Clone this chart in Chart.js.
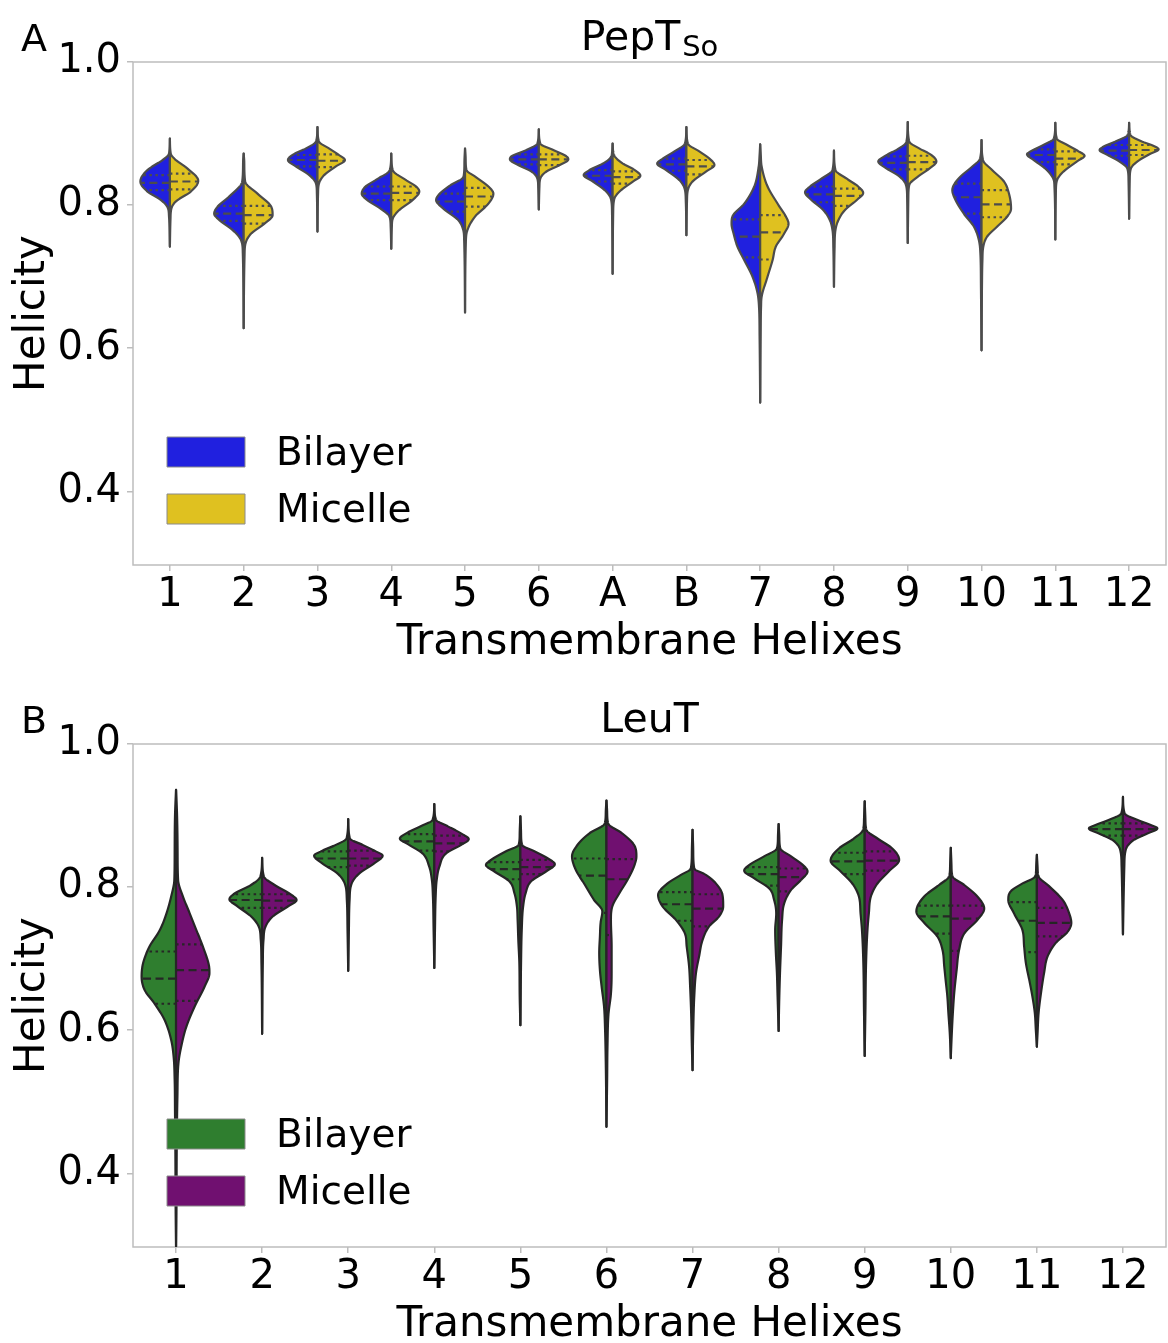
<!DOCTYPE html>
<html>
<head>
<meta charset="utf-8">
<script src="https://cdn.jsdelivr.net/npm/chart.js@4.4.1/dist/chart.umd.min.js"></script>
<style>
html, body { margin: 0; padding: 0; background: #fff; overflow: hidden; }
canvas { position: absolute; left: 0; }
#chartA { top: 0; }
#chartB { top: 682px; }
</style>
</head>
<body>
<canvas id="chartA" width="1168" height="672"></canvas>
<canvas id="chartB" width="1168" height="672"></canvas>
<script>
var yTicks = [0.4, 0.6, 0.8, 1.0];
var seriesNames = ['Bilayer', 'Micelle'];

// ---- PepTSo ----
var pepLabels = ['1', '2', '3', '4', '5', '6', 'A', 'B', '7', '8', '9', '10', '11', '12'];
var pepColors = ['#2020df', '#dfc120'];

// quartiles per helix: [q1, median, q3]
var pepBilayerQuartiles = [
	[0.821, 0.831, 0.842], [0.778, 0.788, 0.799], [0.854, 0.863, 0.870], [0.807, 0.816, 0.826],
	[0.791, 0.805, 0.816], [0.857, 0.864, 0.871], [0.833, 0.841, 0.849], [0.848, 0.857, 0.865],
	[0.727, 0.756, 0.780], [0.804, 0.815, 0.826], [0.850, 0.859, 0.868], [0.788, 0.811, 0.830],
	[0.860, 0.870, 0.878], [0.869, 0.876, 0.884]
];
var pepMicelleQuartiles = [
	[0.822, 0.833, 0.844], [0.774, 0.786, 0.799], [0.853, 0.862, 0.871], [0.807, 0.817, 0.826],
	[0.798, 0.812, 0.824], [0.856, 0.864, 0.871], [0.830, 0.839, 0.847], [0.843, 0.854, 0.863],
	[0.724, 0.762, 0.786], [0.799, 0.813, 0.823], [0.850, 0.860, 0.869], [0.783, 0.801, 0.821],
	[0.857, 0.865, 0.875], [0.870, 0.877, 0.884]
];

// density outline per helix: [helicity, relative density]
var pepBilayerShapes = [
	[[0.893,0],[0.872,0.03],[0.863,0.25],[0.849,0.76],[0.833,1.0],[0.819,0.76],[0.807,0.30],[0.797,0.08],[0.784,0.03],[0.742,0]],
	[[0.872,0],[0.86,0.02],[0.833,0.05],[0.812,0.49],[0.798,0.88],[0.788,1.0],[0.779,0.82],[0.765,0.37],[0.751,0.09],[0.733,0.03],[0.628,0]],
	[[0.909,0],[0.889,0.05],[0.879,0.40],[0.870,0.85],[0.863,1.0],[0.854,0.73],[0.842,0.28],[0.830,0.05],[0.816,0.02],[0.763,0]],
	[[0.872,0],[0.849,0.05],[0.835,0.53],[0.826,0.87],[0.816,1.0],[0.807,0.81],[0.795,0.36],[0.784,0.06],[0.77,0.02],[0.739,0]],
	[[0.879,0],[0.86,0.02],[0.840,0.05],[0.826,0.56],[0.814,0.90],[0.807,0.98],[0.795,0.73],[0.779,0.23],[0.765,0.06],[0.751,0.03],[0.650,0]],
	[[0.906,0],[0.886,0.05],[0.877,0.42],[0.868,0.93],[0.864,0.98],[0.856,0.70],[0.847,0.25],[0.837,0.05],[0.825,0.02],[0.794,0]],
	[[0.886,0],[0.868,0.05],[0.858,0.33],[0.849,0.78],[0.842,0.98],[0.833,0.67],[0.821,0.27],[0.809,0.06],[0.79,0.02],[0.704,0]],
	[[0.909,0],[0.886,0.05],[0.875,0.41],[0.865,0.80],[0.858,0.99],[0.849,0.69],[0.835,0.24],[0.823,0.06],[0.805,0.02],[0.758,0]],
	[[0.885,0],[0.87,0.02],[0.854,0.05],[0.826,0.20],[0.802,0.54],[0.784,0.94],[0.774,0.97],[0.760,0.90],[0.742,0.77],[0.723,0.54],[0.700,0.26],[0.677,0.09],[0.658,0.04],[0.616,0.02],[0.524,0]],
	[[0.876,0],[0.849,0.05],[0.837,0.42],[0.826,0.81],[0.818,0.98],[0.807,0.76],[0.793,0.36],[0.779,0.14],[0.765,0.05],[0.74,0.02],[0.686,0]],
	[[0.916,0],[0.888,0.05],[0.878,0.35],[0.868,0.80],[0.861,1.0],[0.852,0.75],[0.840,0.28],[0.828,0.06],[0.81,0.02],[0.747,0]],
	[[0.891,0],[0.865,0.05],[0.854,0.31],[0.840,0.71],[0.828,0.94],[0.821,0.99],[0.807,0.88],[0.788,0.60],[0.770,0.26],[0.751,0.09],[0.733,0.04],[0.686,0.02],[0.597,0]],
	[[0.915,0],[0.893,0.05],[0.884,0.40],[0.876,0.79],[0.871,0.96],[0.863,0.73],[0.851,0.34],[0.837,0.07],[0.826,0.03],[0.752,0]],
	[[0.915,0],[0.898,0.05],[0.889,0.45],[0.882,0.85],[0.877,1.0],[0.870,0.73],[0.861,0.33],[0.851,0.06],[0.835,0.02],[0.781,0]]
];
var pepMicelleShapes = [
	[[0.893,0],[0.872,0.03],[0.865,0.15],[0.851,0.60],[0.834,0.96],[0.819,0.71],[0.805,0.20],[0.795,0.05],[0.780,0.02],[0.742,0]],
	[[0.872,0],[0.86,0.02],[0.833,0.05],[0.816,0.47],[0.798,0.93],[0.786,0.98],[0.774,0.70],[0.760,0.25],[0.746,0.06],[0.73,0.03],[0.628,0]],
	[[0.909,0],[0.889,0.05],[0.879,0.40],[0.870,0.73],[0.863,0.93],[0.854,0.62],[0.842,0.23],[0.830,0.05],[0.816,0.02],[0.763,0]],
	[[0.872,0],[0.849,0.05],[0.835,0.50],[0.826,0.84],[0.819,0.95],[0.807,0.72],[0.793,0.27],[0.781,0.05],[0.77,0.02],[0.739,0]],
	[[0.879,0],[0.865,0.02],[0.849,0.05],[0.840,0.34],[0.826,0.79],[0.816,0.96],[0.802,0.79],[0.784,0.34],[0.765,0.08],[0.751,0.03],[0.650,0]],
	[[0.906,0],[0.886,0.05],[0.877,0.49],[0.868,0.94],[0.864,1.0],[0.856,0.71],[0.847,0.26],[0.837,0.05],[0.825,0.02],[0.794,0]],
	[[0.886,0],[0.870,0.05],[0.858,0.35],[0.849,0.75],[0.841,0.94],[0.833,0.69],[0.821,0.29],[0.809,0.06],[0.79,0.02],[0.704,0]],
	[[0.909,0],[0.886,0.05],[0.875,0.44],[0.865,0.78],[0.856,0.95],[0.847,0.67],[0.833,0.21],[0.821,0.05],[0.805,0.02],[0.758,0]],
	[[0.885,0],[0.87,0.02],[0.854,0.05],[0.826,0.25],[0.802,0.59],[0.784,0.87],[0.774,0.96],[0.760,0.81],[0.742,0.53],[0.723,0.42],[0.700,0.25],[0.672,0.05],[0.658,0.03],[0.616,0.015],[0.524,0]],
	[[0.876,0],[0.849,0.05],[0.837,0.43],[0.826,0.82],[0.817,0.99],[0.807,0.77],[0.793,0.37],[0.779,0.15],[0.765,0.05],[0.74,0.02],[0.686,0]],
	[[0.916,0],[0.889,0.05],[0.879,0.40],[0.870,0.80],[0.861,0.97],[0.851,0.73],[0.840,0.35],[0.828,0.05],[0.81,0.02],[0.747,0]],
	[[0.891,0],[0.863,0.05],[0.849,0.36],[0.833,0.76],[0.816,0.93],[0.795,1.0],[0.784,0.87],[0.770,0.53],[0.756,0.19],[0.742,0.06],[0.723,0.03],[0.686,0.015],[0.597,0]],
	[[0.915,0],[0.893,0.05],[0.884,0.40],[0.875,0.79],[0.869,0.99],[0.861,0.73],[0.847,0.28],[0.835,0.06],[0.82,0.02],[0.752,0]],
	[[0.915,0],[0.898,0.05],[0.889,0.42],[0.883,0.81],[0.878,1.0],[0.871,0.69],[0.861,0.28],[0.851,0.06],[0.835,0.02],[0.781,0]]
];

// ---- LeuT ----
var leuLabels = ['1', '2', '3', '4', '5', '6', '7', '8', '9', '10', '11', '12'];
var leuColors = ['#2f7e2f', '#701070'];

var leuBilayerQuartiles = [
	[0.637, 0.672, 0.710], [0.771, 0.782, 0.790], [0.828, 0.840, 0.850], [0.851, 0.864, 0.874],
	[0.811, 0.825, 0.835], [0.764, 0.816, 0.840], [0.753, 0.776, 0.793], [0.802, 0.818, 0.828],
	[0.818, 0.836, 0.848], [0.735, 0.759, 0.774], [0.709, 0.753, 0.779], [0.872, 0.881, 0.889]
];
var leuMicelleQuartiles = [
	[0.641, 0.684, 0.720], [0.771, 0.781, 0.790], [0.830, 0.840, 0.851], [0.850, 0.861, 0.872],
	[0.818, 0.828, 0.838], [0.733, 0.811, 0.839], [0.745, 0.770, 0.790], [0.794, 0.814, 0.826],
	[0.823, 0.837, 0.850], [0.711, 0.756, 0.774], [0.731, 0.750, 0.771], [0.872, 0.881, 0.889]
];

var leuBilayerShapes = [
	[[0.936,0],[0.90,0.03],[0.85,0.04],[0.810,0.05],[0.787,0.14],[0.763,0.28],[0.740,0.47],[0.717,0.77],[0.693,0.96],[0.675,1.0],[0.656,0.91],[0.637,0.62],[0.614,0.33],[0.586,0.14],[0.563,0.07],[0.530,0.04],[0.484,0.03],[0.437,0.02],[0.344,0.01],[0.298,0]],
	[[0.841,0],[0.815,0.05],[0.803,0.32],[0.791,0.80],[0.783,0.95],[0.773,0.71],[0.759,0.32],[0.745,0.10],[0.726,0.04],[0.694,0.02],[0.595,0]],
	[[0.895,0],[0.868,0.05],[0.859,0.36],[0.850,0.79],[0.844,0.99],[0.833,0.75],[0.819,0.31],[0.805,0.10],[0.782,0.04],[0.740,0.02],[0.683,0]],
	[[0.916,0],[0.894,0.05],[0.885,0.39],[0.875,0.82],[0.868,1.0],[0.859,0.73],[0.847,0.34],[0.829,0.15],[0.810,0.07],[0.787,0.04],[0.740,0.02],[0.687,0]],
	[[0.899,0],[0.875,0.02],[0.859,0.05],[0.850,0.42],[0.838,0.85],[0.831,1.0],[0.822,0.76],[0.808,0.32],[0.791,0.17],[0.773,0.10],[0.754,0.08],[0.726,0.06],[0.694,0.03],[0.647,0.02],[0.607,0]],
	[[0.921,0],[0.905,0.02],[0.889,0.05],[0.875,0.50],[0.859,0.84],[0.843,1.0],[0.824,0.89],[0.805,0.65],[0.782,0.36],[0.766,0.12],[0.750,0.17],[0.731,0.19],[0.708,0.21],[0.684,0.19],[0.661,0.14],[0.633,0.07],[0.600,0.04],[0.554,0.02],[0.465,0]],
	[[0.880,0],[0.850,0.02],[0.826,0.05],[0.817,0.34],[0.805,0.73],[0.789,1.0],[0.773,0.87],[0.754,0.48],[0.735,0.22],[0.717,0.17],[0.689,0.10],[0.661,0.07],[0.623,0.04],[0.577,0.02],[0.544,0]],
	[[0.888,0],[0.870,0.02],[0.854,0.05],[0.843,0.42],[0.831,0.85],[0.823,1.0],[0.812,0.70],[0.798,0.27],[0.782,0.13],[0.763,0.07],[0.740,0.10],[0.708,0.08],[0.680,0.05],[0.647,0.03],[0.599,0]],
	[[0.920,0],[0.895,0.02],[0.880,0.05],[0.868,0.31],[0.854,0.75],[0.837,0.99],[0.822,0.70],[0.805,0.36],[0.787,0.17],[0.763,0.12],[0.740,0.08],[0.694,0.04],[0.624,0.02],[0.564,0]],
	[[0.855,0],[0.830,0.02],[0.815,0.05],[0.803,0.34],[0.787,0.77],[0.766,1.0],[0.750,0.77],[0.731,0.39],[0.712,0.24],[0.689,0.19],[0.670,0.15],[0.647,0.10],[0.624,0.07],[0.596,0.03],[0.561,0]],
	[[0.845,0],[0.828,0.02],[0.815,0.05],[0.805,0.42],[0.794,0.76],[0.782,0.83],[0.763,0.66],[0.740,0.42],[0.717,0.37],[0.694,0.32],[0.670,0.22],[0.647,0.13],[0.624,0.06],[0.600,0.03],[0.577,0]],
	[[0.926,0],[0.903,0.05],[0.894,0.41],[0.887,0.79],[0.882,0.99],[0.875,0.70],[0.866,0.31],[0.852,0.08],[0.829,0.04],[0.787,0.02],[0.734,0]]
];
var leuMicelleShapes = [
	[[0.936,0],[0.90,0.03],[0.85,0.045],[0.810,0.06],[0.787,0.20],[0.763,0.40],[0.740,0.59],[0.717,0.78],[0.689,0.96],[0.680,0.97],[0.661,0.83],[0.633,0.54],[0.605,0.30],[0.577,0.15],[0.554,0.07],[0.507,0.04],[0.437,0.02],[0.344,0.01],[0.298,0]],
	[[0.841,0],[0.815,0.05],[0.803,0.36],[0.791,0.79],[0.782,1.0],[0.773,0.75],[0.759,0.31],[0.745,0.10],[0.726,0.04],[0.694,0.02],[0.595,0]],
	[[0.895,0],[0.868,0.05],[0.859,0.42],[0.850,0.80],[0.844,1.0],[0.833,0.75],[0.819,0.32],[0.805,0.10],[0.782,0.04],[0.740,0.02],[0.683,0]],
	[[0.916,0],[0.894,0.05],[0.885,0.39],[0.875,0.78],[0.867,1.0],[0.859,0.78],[0.847,0.34],[0.829,0.15],[0.810,0.07],[0.787,0.04],[0.740,0.02],[0.687,0]],
	[[0.899,0],[0.875,0.02],[0.859,0.05],[0.850,0.41],[0.840,0.80],[0.832,1.0],[0.822,0.75],[0.808,0.31],[0.791,0.15],[0.773,0.08],[0.740,0.04],[0.694,0.02],[0.607,0]],
	[[0.921,0],[0.905,0.02],[0.889,0.05],[0.875,0.46],[0.859,0.80],[0.843,0.87],[0.829,0.80],[0.810,0.61],[0.791,0.37],[0.773,0.17],[0.754,0.13],[0.717,0.15],[0.680,0.15],[0.651,0.13],[0.623,0.06],[0.577,0.03],[0.530,0.02],[0.465,0]],
	[[0.880,0],[0.850,0.02],[0.826,0.05],[0.817,0.39],[0.805,0.68],[0.789,0.87],[0.773,0.89],[0.759,0.77],[0.745,0.48],[0.726,0.29],[0.703,0.19],[0.680,0.10],[0.647,0.05],[0.600,0.02],[0.544,0]],
	[[0.888,0],[0.870,0.02],[0.854,0.05],[0.843,0.36],[0.831,0.70],[0.822,0.84],[0.810,0.65],[0.796,0.36],[0.777,0.16],[0.754,0.10],[0.717,0.07],[0.680,0.04],[0.647,0.02],[0.599,0]],
	[[0.920,0],[0.895,0.02],[0.880,0.05],[0.868,0.37],[0.854,0.80],[0.838,1.0],[0.822,0.70],[0.805,0.37],[0.787,0.18],[0.763,0.12],[0.740,0.08],[0.694,0.04],[0.624,0.02],[0.564,0]],
	[[0.855,0],[0.830,0.02],[0.815,0.05],[0.803,0.39],[0.787,0.77],[0.770,0.97],[0.754,0.77],[0.735,0.39],[0.712,0.24],[0.684,0.17],[0.652,0.10],[0.624,0.06],[0.596,0.03],[0.561,0]],
	[[0.845,0],[0.828,0.02],[0.815,0.05],[0.801,0.36],[0.782,0.75],[0.763,0.94],[0.750,1.0],[0.738,0.90],[0.722,0.55],[0.703,0.31],[0.680,0.21],[0.652,0.12],[0.624,0.05],[0.596,0.02],[0.577,0]],
	[[0.926,0],[0.903,0.05],[0.894,0.42],[0.887,0.80],[0.882,1.0],[0.875,0.71],[0.866,0.32],[0.852,0.08],[0.829,0.04],[0.787,0.02],[0.734,0]]
];

var FONT = 'DejaVu Sans';
var frameColor = '#bdbdbd';

/*
* monotone cubic through the density knots, so the outline never overshoots
*/
function prepare(knots) {
	var pts = knots.slice().sort(function(a, b){ return a[0] - b[0]; });
	var n = pts.length, xs = [], ys = [], d = [], m = [];
	for (var i = 0; i < n; i++) { xs.push(pts[i][0]); ys.push(pts[i][1]); }
	for (var i = 0; i < n - 1; i++) d[i] = (ys[i+1] - ys[i]) / (xs[i+1] - xs[i]);
	m[0] = d[0]; m[n-1] = d[n-2];
	for (var i = 1; i < n - 1; i++) m[i] = (d[i-1] * d[i] <= 0) ? 0 : (d[i-1] + d[i]) / 2;
	for (var i = 0; i < n - 1; i++) {
		if (d[i] === 0) { m[i] = 0; m[i+1] = 0; continue; }
		var a = m[i] / d[i], b = m[i+1] / d[i], s = a*a + b*b;
		if (s > 9) { var t = 3 / Math.sqrt(s); m[i] = t*a*d[i]; m[i+1] = t*b*d[i]; }
	}
	return { xs: xs, ys: ys, m: m };
}

function evalAt(p, v) {
	var xs = p.xs, n = xs.length;
	if (v <= xs[0]) return p.ys[0];
	if (v >= xs[n-1]) return p.ys[n-1];
	var i = 0;
	while (i < n - 2 && v > xs[i+1]) i++;
	var h = xs[i+1] - xs[i], t = (v - xs[i]) / h;
	var t2 = t*t, t3 = t2*t;
	var w = (2*t3 - 3*t2 + 1) * p.ys[i] + (t3 - 2*t2 + t) * h * p.m[i] +
		(-2*t3 + 3*t2) * p.ys[i+1] + (t3 - t2) * h * p.m[i+1];
	return Math.max(0, w);
}

function drawHalf(ctx, ys, cx, dir, maxHalf, knots, quart, fill, line) {
	var p = prepare(knots);
	var yTop = ys.getPixelForValue(p.xs[p.xs.length - 1]);
	var yBot = ys.getPixelForValue(p.xs[0]);
	ctx.beginPath();
	ctx.moveTo(cx, yTop);
	for (var py = yTop; py < yBot; py += 0.5) {
		var w = evalAt(p, ys.getValueForPixel(py)) * maxHalf;
		ctx.lineTo(cx + dir * w, py);
	}
	ctx.lineTo(cx, yBot);
	ctx.closePath();
	ctx.fillStyle = fill;
	ctx.fill();
	ctx.lineWidth = 2.2;
	ctx.lineJoin = 'round';
	ctx.strokeStyle = line;
	ctx.stroke();

	// q1, median, q3
	for (var k = 0; k < 3; k++) {
		var y = ys.getPixelForValue(quart[k]);
		var qw = evalAt(p, quart[k]) * maxHalf;
		ctx.setLineDash(k === 1 ? [8, 4.5] : [2.5, 3.5]);
		ctx.beginPath();
		ctx.moveTo(cx, y);
		ctx.lineTo(cx + dir * qw, y);
		ctx.stroke();
	}
	ctx.setLineDash([]);
}

function violinPlugin(cfg) {
	return {
		id: 'violins',
		beforeDatasetsDraw: function(chart) {
			var a = chart.chartArea, ctx = chart.ctx;
			ctx.save();
			ctx.strokeStyle = frameColor;
			ctx.lineWidth = 1.5;
			ctx.strokeRect(a.left, a.top, a.right - a.left, a.bottom - a.top);
			ctx.restore();
		},
		afterDatasetsDraw: function(chart) {
			var ctx = chart.ctx, a = chart.chartArea;
			var xs = chart.scales.x, ys = chart.scales.y;
			var slot = xs.getPixelForValue(1) - xs.getPixelForValue(0);
			var maxHalf = 0.4 * slot;
			ctx.save();
			ctx.beginPath();
			ctx.rect(a.left, a.top, a.right - a.left, a.bottom - a.top);
			ctx.clip();
			for (var i = 0; i < cfg.labels.length; i++) {
				var cx = xs.getPixelForValue(i);
				drawHalf(ctx, ys, cx, -1, maxHalf, cfg.shapes[0][i], cfg.quartiles[0][i], cfg.colors[0], cfg.lineColor);
				drawHalf(ctx, ys, cx, 1, maxHalf, cfg.shapes[1][i], cfg.quartiles[1][i], cfg.colors[1], cfg.lineColor);
			}
			// legend, lower left inside the axes
			for (var s = 0; s < 2; s++) {
				var lx = a.left + 34, ly = a.top + 375 + s * 57;
				ctx.fillStyle = cfg.colors[s];
				ctx.fillRect(lx, ly, 78, 30);
				ctx.strokeStyle = '#8a8a8a';
				ctx.lineWidth = 1;
				ctx.strokeRect(lx, ly, 78, 30);
				ctx.fillStyle = '#000';
				ctx.font = '39px "' + FONT + '"';
				ctx.textBaseline = 'middle';
				ctx.textAlign = 'left';
				ctx.fillText(chart.data.datasets[s].label, a.left + 143, ly + 18);
			}
			ctx.restore();
		},
		afterDraw: function(chart) {
			var ctx = chart.ctx, a = chart.chartArea;
			ctx.save();
			ctx.fillStyle = '#000';
			ctx.textBaseline = 'alphabetic';
			ctx.textAlign = 'left';
			ctx.font = '38px "' + FONT + '"';
			ctx.fillText(cfg.letter, 21, 51);
			ctx.font = '41px "' + FONT + '"';
			var w1 = ctx.measureText(cfg.title).width, w2 = 0;
			if (cfg.sub) {
				ctx.font = '29px "' + FONT + '"';
				w2 = ctx.measureText(cfg.sub).width + 2;
			}
			var x0 = (a.left + a.right) / 2 - (w1 + w2) / 2;
			ctx.font = '41px "' + FONT + '"';
			ctx.fillText(cfg.title, x0, 50);
			if (cfg.sub) {
				ctx.font = '29px "' + FONT + '"';
				ctx.fillText(cfg.sub, x0 + w1 + 2, 56);
			}
			ctx.restore();
		}
	};
}

function makeChart(id, labels, bilayerShapes, micelleShapes, bilayerQ, micelleQ, colors, lineColor, title, sub, letter) {
	var font = { family: FONT, size: 40 };
	var titleFont = { family: FONT, size: 42 };
	var cfg = {
		labels: labels,
		shapes: [bilayerShapes, micelleShapes],
		quartiles: [bilayerQ, micelleQ],
		colors: colors,
		lineColor: lineColor,
		title: title, sub: sub, letter: letter
	};
	return new Chart(document.getElementById(id).getContext('2d'), {
		type: 'line',
		data: {
			labels: labels,
			datasets: [
				{ label: seriesNames[0], data: bilayerQ.map(function(q){ return q[1]; }), showLine: false, pointRadius: 0, backgroundColor: colors[0] },
				{ label: seriesNames[1], data: micelleQ.map(function(q){ return q[1]; }), showLine: false, pointRadius: 0, backgroundColor: colors[1] }
			]
		},
		options: {
			responsive: false,
			animation: false,
			devicePixelRatio: 1,
			layout: { padding: { top: 62, right: 2, bottom: 0, left: 0 } },
			plugins: { legend: { display: false }, title: { display: false }, tooltip: { enabled: false } },
			scales: {
				x: {
					type: 'category',
					offset: true,
					grid: { drawOnChartArea: false, offset: false, tickLength: 6, color: frameColor, lineWidth: 1.5 },
					border: { display: false },
					ticks: { font: font, color: '#000', padding: 1, maxRotation: 0, autoSkip: false },
					title: { display: true, text: 'Transmembrane Helixes', font: titleFont, color: '#000', padding: { top: 0, bottom: 4 } },
					afterFit: function(s) { s.height = 107; }
				},
				y: {
					type: 'linear',
					min: 0.297,
					max: 1.0,
					afterBuildTicks: function(s) { s.ticks = yTicks.map(function(v){ return { value: v }; }); },
					grid: { drawOnChartArea: false, tickLength: 6, color: frameColor, lineWidth: 1.5 },
					border: { display: false },
					ticks: { font: font, color: '#000', padding: 6, callback: function(v){ return v.toFixed(1); } },
					title: { display: true, text: 'Helicity', font: titleFont, color: '#000', padding: { top: 8, bottom: 0 } },
					afterFit: function(s) { s.width = 133; }
				}
			}
		},
		plugins: [violinPlugin(cfg)]
	});
}

makeChart('chartA', pepLabels, pepBilayerShapes, pepMicelleShapes, pepBilayerQuartiles, pepMicelleQuartiles,
	pepColors, '#4c4c4c', 'PepT', 'So', 'A');
makeChart('chartB', leuLabels, leuBilayerShapes, leuMicelleShapes, leuBilayerQuartiles, leuMicelleQuartiles,
	leuColors, '#262626', 'LeuT', '', 'B');
</script>
</body>
</html>
